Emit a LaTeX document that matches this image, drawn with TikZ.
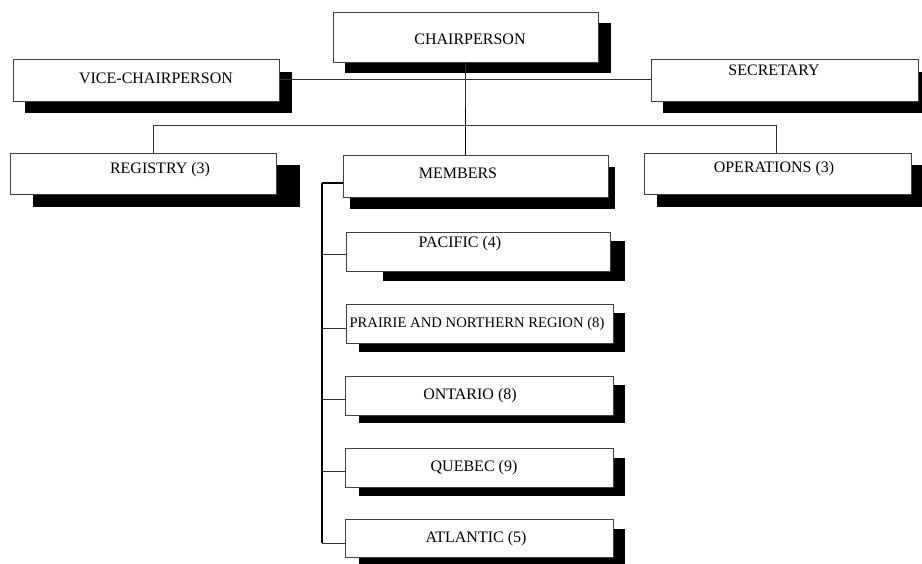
\documentclass[tikz,border=0pt]{standalone}
\usepackage{fontspec}
\setmainfont{Liberation Serif}

\begin{document}
\begin{tikzpicture}[x=0.75pt, y=-0.75pt,
    unit/.style={draw=black!75, fill=white, line width=0.6pt, inner sep=0pt},
    size/.style 2 args={minimum width=#1*0.75pt, minimum height=#2*0.75pt},
    shade/.style={fill=black},
    lbl/.style={font=\fontsize{12}{14}\selectfont, inner sep=0pt, anchor=base},
    link/.style={draw=black!80, line width=0.6pt},
    trunk/.style={line width=1.3pt}]
    \useasboundingbox (0,0) rectangle (922,564);
    % shadows
    \fill[shade] (345,23) rectangle (611,73);
    \fill[shade] (25,72) rectangle (292,113);
    \fill[shade] (663,72) rectangle (922,113);
    \fill[shade] (33,165) rectangle (300,207);
    \fill[shade] (657,165) rectangle (922,207);
    \fill[shade] (350,167) rectangle (615,209);
    \fill[shade] (383,241) rectangle (625,281);
    \fill[shade] (359,313) rectangle (625,352);
    \fill[shade] (359,385) rectangle (625,423);
    \fill[shade] (359,458) rectangle (625,496);
    \fill[shade] (359,529) rectangle (625,564);
    % connectors at the top
    \coordinate (split) at (465.5,108);
    \coordinate (regtop) at (153,153);
    \coordinate (opstop) at (776,153);
    \coordinate (trunktop) at (322,183);
    \coordinate (trunkend) at (322,543);
    \draw[link] (146,79) -- (784.5,79);
    \draw[link] (regtop) -- ++(0,-28) -| (opstop);
    % boxes
    \node[unit, size={265}{50}] (chair) at (465.5,37) {};
    \node[unit, size={266}{42}] (vice) at (146,80) {};
    \node[unit, size={267}{42}] (sec) at (784.5,80) {};
    \node[unit, size={266}{41}] (reg) at (143,173.5) {};
    \node[unit, size={267}{41}] (ops) at (777.5,173.5) {};
    \node[unit, size={265}{42}] (mem) at (475.5,176) {};
    \node[unit, size={264}{39}] (pac) at (478,251.5) {};
    \node[unit, size={267}{39}] (pra) at (479.5,323.5) {};
    \node[unit, size={268}{39}] (ont) at (479,395.5) {};
    \node[unit, size={268}{39}] (que) at (479,467.5) {};
    \node[unit, size={268}{38}] (atl) at (479,538) {};
    % chair to members
    \draw[link] (chair.south) -- (split);
    \draw[trunk] (split) -- (chair.south |- mem.north);
    % members and regions
    \draw[trunk] (trunktop) -- (trunkend);
    \draw[trunk] (trunktop) -- (mem.west |- trunktop);
    \foreach \n/\y in {pac/254, pra/328, ont/399, que/471, atl/543}
        \draw[link] (322,\y) -- (\n.west |- 0,\y);
    % labels
    \node[lbl] (chairtext) at (470,44.5) {CHAIRPERSON};
    \node[lbl] (vicetext) at (156,83.5) {VICE-CHAIRPERSON};
    \node[lbl] (sectext) at (774,75.5) {SECRETARY};
    \node[lbl] (regtext) at (160,173.5) {REGISTRY (3)};
    \node[lbl] (opstext) at (774,172.5) {OPERATIONS (3)};
    \node[lbl] (memtext) at (458,178.5) {MEMBERS};
    \node[lbl] (pactext) at (460,247.5) {PACIFIC (4)};
    \node[lbl, font=\fontsize{11}{13}\selectfont] (pratext) at (477,327.5) {PRAIRIE AND NORTHERN REGION (8)};
    \node[lbl] (onttext) at (470,399.5) {ONTARIO (8)};
    \node[lbl] (quetext) at (474,471.5) {QUEBEC (9)};
    \node[lbl] (atltext) at (476,542.5) {ATLANTIC (5)};
\end{tikzpicture}
\end{document}
